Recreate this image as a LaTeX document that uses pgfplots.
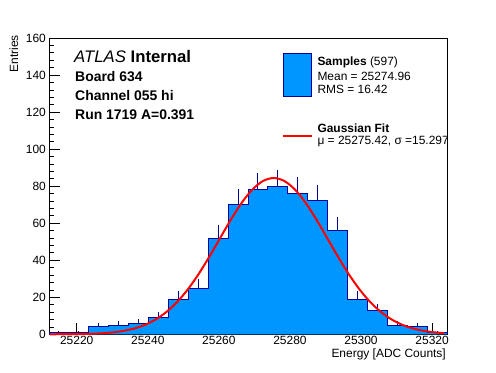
\documentclass[border=0pt]{standalone}
\usepackage{fontspec}
\setmainfont{Liberation Sans}
\usepackage{pgfplots}
\pgfplotsset{compat=1.18}
\definecolor{histfill}{RGB}{0,150,255}
\definecolor{histline}{RGB}{0,0,153}
\begin{document}
\begin{tikzpicture}[x=1bp,y=1bp]
\useasboundingbox (0,0) rectangle (496,372);
\begin{axis}[
  at={(49bp,37.7bp)}, anchor=south west,
  width=398bp, height=296.3bp, scale only axis,
  xmin=25212.2, xmax=25324.2, ymin=0, ymax=160,
  scaled x ticks=false, scaled y ticks=false,
  xtick={25220,25240,25260,25280,25300,25320},
  xticklabels={25220,25240,25260,25280,25300,25320},
  ytick={0,20,40,60,80,100,120,140,160},
  yticklabels={0,20,40,60,80,100,120,140,160},
  minor x tick num=1, minor y tick num=4,
  tick align=inside, tick pos=left,
  major tick length=11bp, minor tick length=5.5bp,
  tick style={black, line width=0.7bp},
  axis line style={line width=0.8bp},
  ticklabel style={font=\fontsize{12}{14}\selectfont},
  xticklabel style={inner sep=2bp},
  yticklabel style={inner sep=3bp},
  clip=false,
]
% histogram (bin edges, counts)
\addplot[const plot, fill=histfill, draw=histline, line width=1bp] coordinates {
(25212.2,0) (25212.2,1) (25217.8,1) (25223.4,4) (25229.0,5) (25234.6,6)
(25240.2,9) (25245.8,19) (25251.4,25) (25257.0,52) (25262.6,70)
(25268.2,78) (25273.8,80) (25279.4,76) (25285.0,72) (25290.6,56)
(25296.2,19) (25301.8,13) (25307.4,5) (25313.0,4) (25318.6,1)
(25324.2,1) (25324.2,0)};
% error bars (upper part)
\addplot[draw=none, mark=none, error bars/.cd, y dir=plus, y explicit,
  error mark=none, error bar style={draw=histline, line width=1bp}] coordinates {
(25215.0,1) +- (0,1)
(25220.6,1) +- (0,1)
(25226.2,4) +- (0,2)
(25231.8,5) +- (0,2.236)
(25237.4,6) +- (0,2.449)
(25243.0,9) +- (0,3)
(25248.6,19) +- (0,4.359)
(25254.2,25) +- (0,5)
(25259.8,52) +- (0,7.211)
(25265.4,70) +- (0,8.367)
(25271.0,78) +- (0,8.832)
(25276.6,80) +- (0,8.944)
(25282.2,76) +- (0,8.718)
(25287.8,72) +- (0,8.485)
(25293.4,56) +- (0,7.483)
(25299.0,19) +- (0,4.359)
(25304.6,13) +- (0,3.606)
(25310.2,5) +- (0,2.236)
(25315.8,4) +- (0,2)
(25321.4,1) +- (0,1)
};
% Gaussian fit curve
\addplot[red, line width=2bp, smooth] coordinates {
(25212.42,0.02) (25215.42,0.04) (25218.42,0.08) (25221.42,0.17)
(25224.42,0.33) (25227.42,0.61) (25230.42,1.11) (25233.42,1.95)
(25236.42,3.27) (25239.42,5.29) (25242.42,8.24) (25245.42,12.34)
(25248.42,17.78) (25251.42,24.65) (25254.42,32.89) (25257.42,42.23)
(25260.42,52.19) (25263.42,62.05) (25266.42,70.99) (25269.42,78.15)
(25272.42,82.79) (25275.42,84.40) (25278.42,82.79) (25281.42,78.15)
(25284.42,70.99) (25287.42,62.05) (25290.42,52.19) (25293.42,42.23)
(25296.42,32.89) (25299.42,24.65) (25302.42,17.78) (25305.42,12.34)
(25308.42,8.24) (25311.42,5.29) (25314.42,3.27) (25317.42,1.95)
(25320.42,1.11) (25323.42,0.61)};
\end{axis}
% axis titles
\node[rotate=90, anchor=base east, inner sep=0pt, font=\fontsize{12}{14}\selectfont] at (18,337) {Entries};
\node[anchor=base east, inner sep=0pt, font=\fontsize{12}{14}\selectfont] at (446,14.7) {Energy [ADC Counts]};
% ATLAS label
\node[anchor=base west, inner sep=0pt, font=\fontsize{16.8}{19}\selectfont] at (74,309.3) {\textit{ATLAS} \textbf{Internal}};
\node[anchor=base west, inner sep=0pt, font=\fontsize{14}{16}\selectfont\bfseries] at (75,291) {Board 634};
\node[anchor=base west, inner sep=0pt, font=\fontsize{14}{16}\selectfont\bfseries] at (75,271.7) {Channel 055 hi};
\node[anchor=base west, inner sep=0pt, font=\fontsize{14}{16}\selectfont\bfseries] at (75,253) {Run 1719 A=0.391};
% legend
\filldraw[fill=histfill, draw=histline, line width=1bp] (283.3,275.3) rectangle (311.7,318.7);
\draw[red, line width=2bp] (283.3,236) -- (311.7,236);
\node[anchor=base west, inner sep=0pt, font=\fontsize{12}{14}\selectfont] at (317.3,307) {\textbf{Samples} (597)};
\node[anchor=base west, inner sep=0pt, font=\fontsize{12}{14}\selectfont] at (317.3,292) {Mean = 25274.96};
\node[anchor=base west, inner sep=0pt, font=\fontsize{12}{14}\selectfont] at (317.3,278.3) {RMS = 16.42};
\node[anchor=base west, inner sep=0pt, font=\fontsize{12}{14}\selectfont] at (317.3,239.3) {\textbf{Gaussian Fit}};
\node[anchor=base west, inner sep=0pt, font=\fontsize{12}{14}\selectfont] at (317.3,227.5) {μ = 25275.42, σ =15.297};
\end{tikzpicture}
\end{document}
